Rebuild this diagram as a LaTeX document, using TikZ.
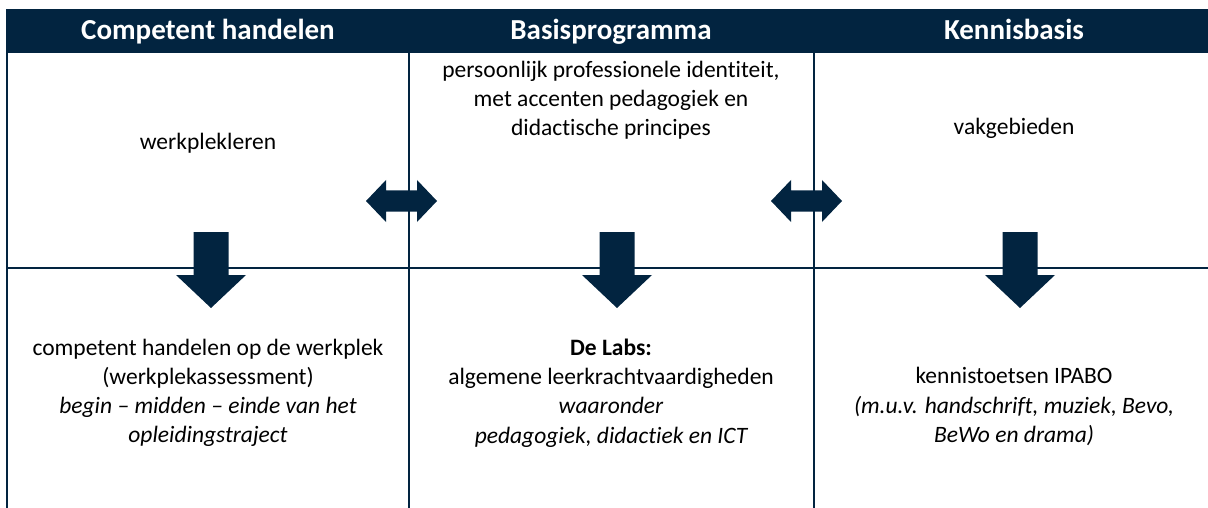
\documentclass[tikz,border=0pt]{standalone}
\usepackage{fontspec}
\setmainfont{Carlito}[Ligatures={NoCommon,NoContextual}]
\definecolor{navy}{RGB}{2,36,64}
\tikzset{
  gridline/.style={draw=navy, line width=2pt},
  headtext/.style={text=white, font=\fontsize{29}{34}\selectfont\bfseries, anchor=base, inner sep=0pt},
  bodytext/.style={text=black, font=\fontsize{23.5}{29.2}\selectfont, align=center, anchor=center, inner sep=0pt},
  bigarrow/.style={fill=navy, draw=none}
}
\begin{document}
\begin{tikzpicture}[x=1pt,y=-1pt]
\useasboundingbox (0,0) rectangle (1208,508);
% header band
\fill[navy] (6,9) rectangle (1208,53);
\node[headtext] (h1) at (208,39.5) {Competent handelen};
\node[headtext] (h2) at (611,39.5) {Basisprogramma};
\node[headtext] (h3) at (1014,39.5) {Kennisbasis};
% grid
\draw[gridline] (7,53) -- (7,508);
\draw[gridline] (409,53) -- (409,508);
\draw[gridline] (814,53) -- (814,508);
\draw[gridline] (6,268) -- (1208,268);
% top texts
\node[bodytext] (t1) at (208,143.5) {werkplekleren};
\node[bodytext] (t2) at (611,100.5) {persoonlijk professionele identiteit,\\met accenten pedagogiek en\\didactische principes};
\node[bodytext] (t3) at (1014,128.5) {vakgebieden};
% bottom texts
\node[bodytext] (b1) at (208,393) {competent handelen op de werkplek\\(werkplekassessment)\\\itshape begin -- midden -- einde van het\\\itshape opleidingstraject};
\node[bodytext] (b2) at (611,393) {\bfseries De Labs:\\algemene leerkrachtvaardigheden\\\itshape waaronder\\\itshape pedagogiek, didactiek en ICT};
\node[bodytext] (b3) at (1014,406.5) {kennistoetsen IPABO\\\itshape (m.u.v. handschrift, muziek, Bevo,\\\itshape BeWo en drama)};
% down arrows
\foreach \cx in {211,617,1020}{
  \fill[bigarrow] (\cx-17.5,232) -- (\cx+17.5,232) -- (\cx+17.5,275) -- (\cx+35,275)
     -- (\cx,308) -- (\cx-35,275) -- (\cx-17.5,275) -- cycle;
}
% double arrows
\foreach \lx in {366,771}{
  \fill[bigarrow] (\lx,201) -- (\lx+20,180) -- (\lx+20,190.5) -- (\lx+51,190.5) -- (\lx+51,180)
     -- (\lx+71,201) -- (\lx+51,222) -- (\lx+51,211.5) -- (\lx+20,211.5) -- (\lx+20,222) -- cycle;
}
\end{tikzpicture}
\end{document}
